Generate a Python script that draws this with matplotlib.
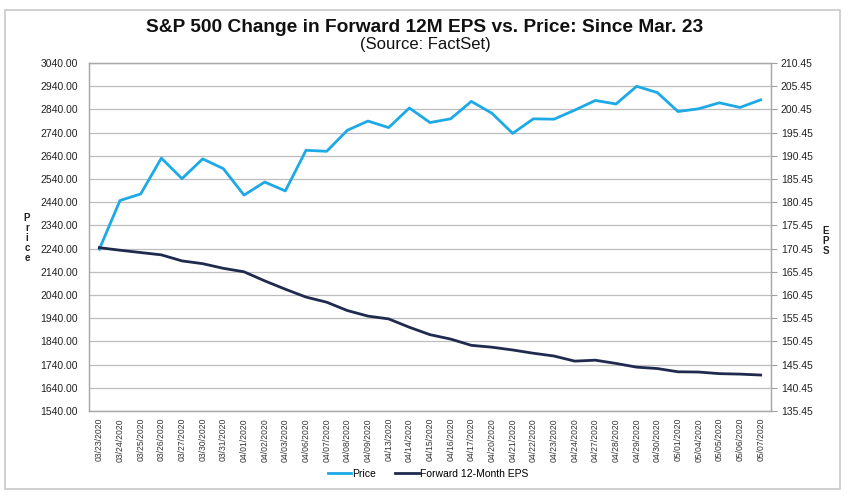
import matplotlib
matplotlib.use("Agg")
import matplotlib.pyplot as plt
from matplotlib.patches import Rectangle
import numpy as np

dates = ["03/23/2020", "03/24/2020", "03/25/2020", "03/26/2020", "03/27/2020",
         "03/30/2020", "03/31/2020", "04/01/2020", "04/02/2020", "04/03/2020",
         "04/06/2020", "04/07/2020", "04/08/2020", "04/09/2020", "04/13/2020",
         "04/14/2020", "04/15/2020", "04/16/2020", "04/17/2020", "04/20/2020",
         "04/21/2020", "04/22/2020", "04/23/2020", "04/24/2020", "04/27/2020",
         "04/28/2020", "04/29/2020", "04/30/2020", "05/01/2020", "05/04/2020",
         "05/05/2020", "05/06/2020", "05/07/2020"]

price = [2237.40, 2447.33, 2475.56, 2630.07, 2541.47, 2626.65, 2584.59, 2470.50,
         2526.90, 2488.65, 2663.68, 2659.41, 2749.98, 2789.82, 2761.63, 2846.06,
         2783.36, 2799.55, 2874.56, 2823.16, 2736.56, 2799.31, 2797.80, 2836.74,
         2878.48, 2863.39, 2939.51, 2912.43, 2830.71, 2842.74, 2868.44, 2848.42,
         2881.19]

eps = [170.65, 170.1, 169.6, 169.1, 167.8, 167.2, 166.2, 165.45, 163.5, 161.7,
       160.0, 158.9, 157.1, 155.9, 155.3, 153.5, 151.9, 150.95, 149.6, 149.2,
       148.6, 147.9, 147.3, 146.2, 146.4, 145.7, 144.9, 144.6, 143.9, 143.85,
       143.5, 143.4, 143.2]

price_ticks = np.arange(1540, 3040.1, 100)
eps_ticks = np.arange(135.45, 210.46, 5)

PRICE_C = "#1CA9E6"
EPS_C = "#1F2B4E"
GRID_C = "#BDBDBD"
TXT_C = "#222222"
FONT = ["Liberation Sans", "DejaVu Sans"]
plt.rcParams["font.family"] = FONT

fig = plt.figure(figsize=(8.55, 5.0), dpi=100)
fig.patch.set_facecolor("white")
fig.add_artist(Rectangle((5 / 855, 11 / 500), 835 / 855, 479 / 500,
                         transform=fig.transFigure, fill=False,
                         edgecolor="#C8C8C8", linewidth=1.2))

ax = fig.add_axes([89 / 855, 89 / 500, 682 / 855, 348 / 500])
ax2 = ax.twinx()

x = np.arange(len(dates))
l1, = ax.plot(x, price, color=PRICE_C, lw=2.0, label="Price", zorder=3)
l2, = ax2.plot(x, eps, color=EPS_C, lw=2.0, label="Forward 12-Month EPS", zorder=3)

ax.set_xlim(-0.5, len(dates) - 0.5)
ax.set_ylim(1540, 3040)
ax2.set_ylim(135.45, 210.45)
ax.set_yticks(price_ticks)
ax.set_yticklabels([f"{v:.2f}" for v in price_ticks])
ax2.set_yticks(eps_ticks)
ax2.set_yticklabels([f"{v:.2f}" for v in eps_ticks])
ax.set_xticks(x)
ax.set_xticklabels(dates, rotation=90, fontsize=6.2, color="#333333")

ax.grid(axis="y", color=GRID_C, lw=0.9, zorder=0)
ax.set_axisbelow(True)
ax.tick_params(axis="y", length=0, labelsize=7.5, labelcolor=TXT_C, pad=8)
ax.tick_params(axis="x", length=0, pad=5)
ax2.tick_params(axis="y", length=4, color="#A0A0A0", labelsize=7.5,
                labelcolor=TXT_C, pad=3)

for a in (ax, ax2):
    for s in a.spines.values():
        s.set_color("#A8A8A8")
        s.set_linewidth(0.9)

fig.text(27 / 855, 1 - 238 / 500, "P\nr\ni\nc\ne", ha="center", va="center",
         fontsize=7, fontweight="bold", color=TXT_C, linespacing=1.0)
fig.text(826 / 855, 1 - 241 / 500, "E\nP\nS", ha="center", va="center",
         fontsize=7, fontweight="bold", color=TXT_C, linespacing=1.0)

fig.text(425 / 855, 1 - 28 / 500, "S&P 500 Change in Forward 12M EPS vs. Price: Since Mar. 23",
         ha="center", va="center", fontsize=13.8, fontweight="bold", color="#111111")
fig.text(425 / 855, 1 - 45 / 500, "(Source: FactSet)", ha="center", va="center",
         fontsize=12, color="#111111")

fig.legend(handles=[l1, l2], loc="center", bbox_to_anchor=(428 / 855, 1 - 474 / 500),
           ncol=2, frameon=False, fontsize=7.5, handlelength=2.3, handletextpad=0.1,
           columnspacing=1.8)

fig.savefig("out.png", dpi=100, facecolor="white")
